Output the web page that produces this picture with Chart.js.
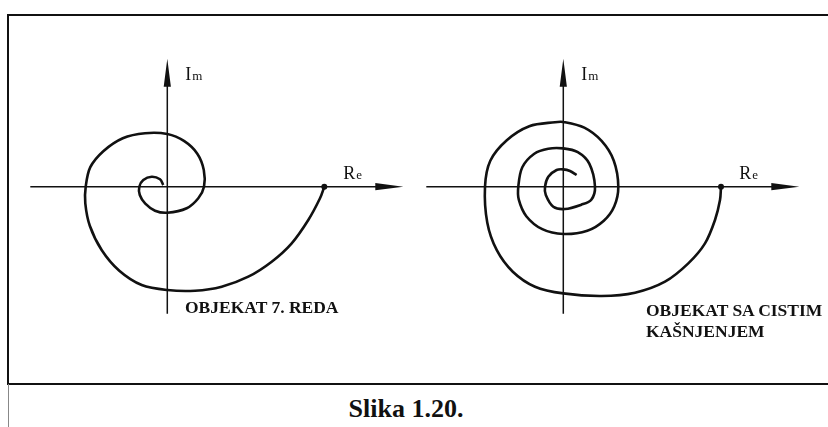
<!DOCTYPE html>
<html>
<head>
<meta charset="utf-8">
<script src="https://cdn.jsdelivr.net/npm/chart.js@4.4.0/dist/chart.umd.min.js"></script>
<style>
    html, body { margin: 0; padding: 0; background: #fff; }
    body { width: 828px; height: 427px; position: relative; overflow: hidden; font-family: 'Liberation Serif', 'Times New Roman', serif; }
    .frame { position: absolute; left: 7px; top: 14px; width: 900px; height: 367px; border: 2px solid #111; border-right: none; }
    .stub { position: absolute; left: 8px; top: 384px; width: 1px; height: 43px; background: #888; }
    canvas { position: absolute; top: 0; }
    .note { position: absolute; font-weight: 700; font-size: 17.5px; line-height: 21px; color: #111; white-space: nowrap; }
    .caption { position: absolute; left: 0; width: 812px; top: 394px; text-align: center; font-weight: 700; font-size: 26px; color: #111; }
</style>
</head>
<body>
<div class="frame"></div>
<div class="stub"></div>
<canvas id="plot7" width="414" height="383" style="left:0"></canvas>
<canvas id="plotDelay" width="414" height="383" style="left:414px"></canvas>
<div class="note" style="left:185px; top:297px;">OBJEKAT 7. REDA</div>
<div class="note" style="left:646px; top:300px;">OBJEKAT SA CISTIM<br>KAŠNJENJEM</div>
<div class="caption">Slika 1.20.</div>

<script>
// Nyquist curves, read point by point (Re, Im), start point K on the real axis
const spiral7Re = [157, 152.7, 141, 124.4, 104.4, 81, 54.4, 27.7, 0, -25.6, -48, -65.5, -77.5, -82, -81.6,
    -77, -64, -44.5, -22.3, 0, 17, 30, 36.5, 36.7, 31, 19.4, 0, -12.3, -22, -27.5, -28, -24, -15.6, -7.3, -4];
const spiral7Im = [0, -11.6, -33.3, -56.6, -75, -90, -100, -104, -103.3, -98.3, -84, -63.5, -39, -16.6, 0,
    19.5, 35.5, 48.5, 53.5, 52.7, 45.5, 33, 16.7, 0, -11.6, -21.6, -26, -24, -17, -8.3, 0, 6.7, 10, 7.4, 1.7];

const delayRe = [157.7, 156.7, 151.7, 141.7, 125, 101.7, 71.7, 38.3, 0, -28.3, -50.5, -66.5, -76, -78.3,
    -73, -56.5, -34, -8.3, 0, 21, 38.5, 50.5, 55, 51, 40.5, 24, 0, -21, -37, -44.5, -45, -41, -29, -15,
    0, 14.5, 26, 31.7, 28, 18, 1.7, -10, -17.5, -18.3, -15, -6.7, 0, 6.7, 13.3];
const delayIm = [0, -13.3, -33.3, -56.7, -76.7, -95, -106, -109.3, -106.7, -100, -85, -63.5, -36, 0,
    26, 46.5, 60.5, 64.5, 64.7, 59, 45.5, 26, 0, -19.5, -34, -44, -47.3, -42.5, -29.5, -13, 0, 19.5, 33, 38,
    38.3, 34.5, 23, 0, -13, -18, -22.3, -20, -8.3, 0, 10, 16.7, 17.3, 15.7, 11.7];

// extent of the drawn axes
const axisRe = [-137, 236];
const axisIm = [-127, 128];

const axisLabels = { re: ['R', 'e'], im: ['I', 'm'] };

// axes with arrowheads and the Re / Im labels
const complexAxes = {
    id: 'complexAxes',
    beforeDatasetsDraw(chart) {
        const { ctx, scales: { x, y } } = chart;
        const x0 = x.getPixelForValue(0), y0 = y.getPixelForValue(0);
        const xa = x.getPixelForValue(axisRe[0]), xb = x.getPixelForValue(axisRe[1]);
        const ya = y.getPixelForValue(axisIm[0]), yb = y.getPixelForValue(axisIm[1]);
        ctx.save();
        ctx.strokeStyle = '#111';
        ctx.fillStyle = '#111';
        ctx.lineWidth = 1.5;
        ctx.beginPath();
        ctx.moveTo(xa, y0); ctx.lineTo(xb - 20, y0);
        ctx.moveTo(x0, ya); ctx.lineTo(x0, yb + 20);
        ctx.stroke();
        // arrowheads
        ctx.beginPath();
        ctx.moveTo(xb, y0); ctx.lineTo(xb - 28, y0 - 3.6); ctx.lineTo(xb - 28, y0 + 3.6); ctx.closePath();
        ctx.moveTo(x0, yb); ctx.lineTo(x0 - 3.6, yb + 28); ctx.lineTo(x0 + 3.6, yb + 28); ctx.closePath();
        ctx.fill();

        const label = (pair, px, py) => {
            ctx.font = '18px "Liberation Serif", serif';
            ctx.textBaseline = 'alphabetic';
            ctx.fillText(pair[0], px, py);
            const w = ctx.measureText(pair[0]).width;
            ctx.font = '13px "Liberation Serif", serif';
            ctx.fillText(pair[1], px + w + 1, py);
        };
        label(axisLabels.im, x0 + 18, y0 - 107);
        label(axisLabels.re, x0 + 176, y0 - 8);
        ctx.restore();
    }
};

function nyquist(id, re, im, xMin) {
    const pts = re.map((v, i) => ({ x: v, y: im[i] }));
    return new Chart(document.getElementById(id), {
        type: 'scatter',
        data: {
            datasets: [{
                data: pts,
                showLine: true,
                tension: 0.33,
                borderColor: '#111',
                backgroundColor: '#111',
                borderWidth: 2.6,
                pointRadius: pts.map((p, i) => i === 0 ? 3 : 0),
                pointBorderWidth: 0,
                fill: false
            }]
        },
        options: {
            responsive: false,
            animation: false,
            events: [],
            layout: { padding: 0, autoPadding: false },
            plugins: { legend: { display: false }, tooltip: { enabled: false } },
            scales: {
                x: { type: 'linear', display: false, min: xMin, max: xMin + 414 },
                y: { type: 'linear', display: false, min: -196.3, max: 186.7 }
            }
        },
        plugins: [complexAxes]
    });
}

nyquist('plot7', spiral7Re, spiral7Im, -167.3);
nyquist('plotDelay', delayRe, delayIm, -149.3);
</script>
</body>
</html>
